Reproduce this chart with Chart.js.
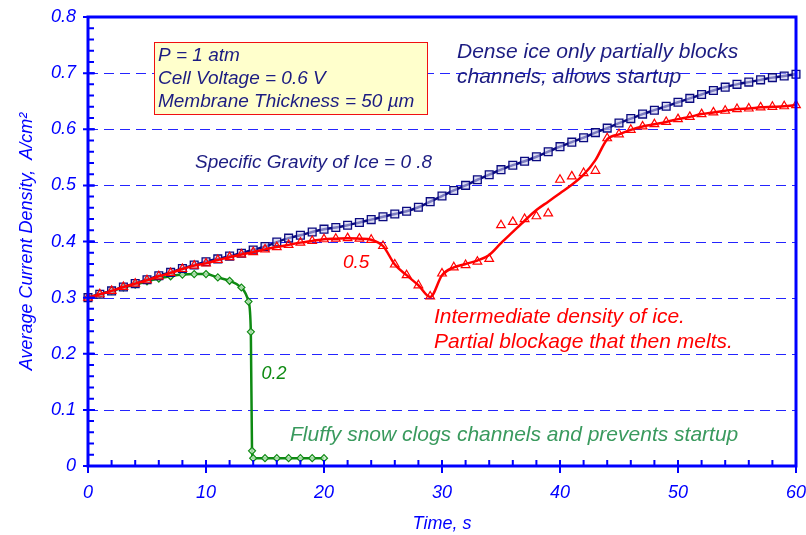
<!DOCTYPE html>
<html>
<head>
<meta charset="utf-8">
<title>Startup from frozen state</title>
<script src="https://cdn.jsdelivr.net/npm/chart.js@4.4.0/dist/chart.umd.min.js"></script>
<style>
  html, body { margin: 0; padding: 0; background: #fff; }
  #wrap { width: 806px; height: 535px; position: relative; }
</style>
</head>
<body>
<div id="wrap"><canvas id="startupChart"></canvas></div>
<script>
// time axis, one sample per second
const timeSec = [
  0, 1, 2, 3, 4, 5, 6, 7, 8, 9, 10, 11, 12, 13, 14, 15, 16, 17, 18, 19, 20,
  21, 22, 23, 24, 25, 26, 27, 28, 29, 30, 31, 32, 33, 34, 35, 36, 37, 38, 39, 40,
  41, 42, 43, 44, 45, 46, 47, 48, 49, 50, 51, 52, 53, 54, 55, 56, 57, 58, 59, 60
];

// specific gravity of ice = 0.8 (dense ice)
const sg08 = [
  0.300, 0.306, 0.312, 0.319, 0.325, 0.332, 0.339, 0.345, 0.352, 0.358, 0.364,
  0.369, 0.374, 0.379, 0.385, 0.391, 0.399, 0.406, 0.411, 0.417, 0.422,
  0.425, 0.429, 0.434, 0.439, 0.444, 0.449, 0.454, 0.461, 0.471, 0.481,
  0.491, 0.500, 0.510, 0.519, 0.528, 0.536, 0.543, 0.551, 0.560, 0.569,
  0.577, 0.585, 0.594, 0.602, 0.611, 0.619, 0.627, 0.634, 0.641, 0.648,
  0.655, 0.662, 0.669, 0.675, 0.680, 0.684, 0.688, 0.692, 0.695, 0.698
];

// specific gravity 0.5: computed points
const sg05Points = [
  0.300, 0.306, 0.312, 0.319, 0.325, 0.331, 0.338, 0.344, 0.351, 0.357, 0.361,
  0.367, 0.372, 0.377, 0.381, 0.386, 0.390, 0.394, 0.398, 0.401, 0.404,
  0.405, 0.406, 0.405, 0.403, 0.392, 0.359, 0.340, 0.322, 0.302, 0.343,
  0.354, 0.358, 0.364, 0.369, 0.429, 0.435, 0.440, 0.445, 0.450, 0.510,
  0.516, 0.522, 0.526, 0.584, 0.591, 0.599, 0.605, 0.609, 0.613, 0.618,
  0.622, 0.627, 0.630, 0.633, 0.636, 0.637, 0.639, 0.640, 0.641, 0.643
];

// specific gravity 0.5: smoothed curve
const sg05Curve = [
  0.300, 0.306, 0.312, 0.319, 0.325, 0.331, 0.338, 0.344, 0.351, 0.357, 0.361,
  0.367, 0.372, 0.377, 0.381, 0.386, 0.390, 0.394, 0.398, 0.401, 0.404,
  0.405, 0.406, 0.405, 0.403, 0.392, 0.359, 0.340, 0.322, 0.301, 0.340,
  0.354, 0.360, 0.366, 0.376, 0.397, 0.417, 0.437, 0.456, 0.471, 0.486,
  0.501, 0.519, 0.545, 0.582, 0.591, 0.599, 0.605, 0.609, 0.613, 0.618,
  0.622, 0.627, 0.630, 0.633, 0.636, 0.637, 0.639, 0.640, 0.641, 0.643
];

// specific gravity 0.2 (fluffy snow), sampled more finely near the collapse
const sg02Time = [0, 1, 2, 3, 4, 5, 6, 7, 8, 9, 10, 11, 12, 13, 13.6, 13.8, 13.9, 14, 15, 16, 17, 18, 19, 20];
const sg02 = [
  0.300, 0.306, 0.312, 0.318, 0.323, 0.329, 0.334, 0.338, 0.341, 0.342, 0.342,
  0.336, 0.330, 0.318, 0.293, 0.239, 0.027, 0.014, 0.014, 0.014, 0.014, 0.014, 0.014, 0.014
];

const xTicks = [0, 10, 20, 30, 40, 50, 60];
const yTicks = [0, 0.1, 0.2, 0.3, 0.4, 0.5, 0.6, 0.7, 0.8];
const xMinorStep = 2;
const yMinorStep = 0.02;

const FONT = '"Liberation Sans", Arial, Helvetica, sans-serif';
const AXIS_BLUE = '#0000ff';
const NAVY = '#1c1c82';
const RED = '#ff0000';
const GREEN = '#0e8a12';

// text placed in data coordinates (t, value) at the left end of the baseline
const notes = [
  { text: 'Dense ice only partially blocks', t: 31.27, v: 0.7261, color: NAVY, size: 21 },
  { text: 'channels, allows startup', t: 31.27, v: 0.6819, color: NAVY, size: 21 },
  { text: 'Specific Gravity of Ice = 0 .8', t: 9.07, v: 0.5304, color: NAVY, size: 19 },
  { text: '0.5', t: 21.61, v: 0.3528, color: RED, size: 19 },
  { text: 'Intermediate density of ice.', t: 29.32, v: 0.2543, color: RED, size: 21 },
  { text: 'Partial blockage that then melts.', t: 29.32, v: 0.2108, color: RED, size: 21 },
  { text: '0.2', t: 14.7, v: 0.155, color: GREEN, size: 18 },
  { text: 'Fluffy snow clogs channels and prevents startup', t: 17.12, v: 0.0454, color: '#3a9a5e', size: 21 }
];

const conditions = ['P = 1 atm', 'Cell Voltage = 0.6 V', 'Membrane Thickness = 50 \u00b5m'];

const toPoints = (xs, ys) => xs.map((x, i) => ({ x: x, y: ys[i] }));

const axisFrame = {
  id: 'axisFrame',
  beforeDatasetsDraw(chart) {
    const { ctx, chartArea: a, scales: { y } } = chart;
    ctx.save();
    ctx.strokeStyle = '#2424ff';
    ctx.lineWidth = 1;
    ctx.setLineDash([10, 6]);
    yTicks.slice(1, -1).forEach((v) => {
      const py = Math.round(y.getPixelForValue(v)) + 0.5;
      ctx.beginPath();
      ctx.moveTo(a.left, py);
      ctx.lineTo(a.right, py);
      ctx.stroke();
    });
    ctx.restore();
  },
  afterDatasetsDraw(chart) {
    const { ctx, chartArea: a, scales: { x, y } } = chart;
    ctx.save();
    ctx.strokeStyle = AXIS_BLUE;

    // minor ticks point into the plot
    ctx.lineWidth = 2;
    ctx.beginPath();
    for (let t = 0; t <= 60; t += xMinorStep) {
      const px = x.getPixelForValue(t);
      ctx.moveTo(px, a.bottom);
      ctx.lineTo(px, a.bottom - 6);
    }
    for (let i = 0; i <= 40; i++) {
      const py = y.getPixelForValue(i * yMinorStep);
      ctx.moveTo(a.left, py);
      ctx.lineTo(a.left + 6, py);
    }
    ctx.stroke();

    // major ticks cross the axis
    ctx.beginPath();
    xTicks.forEach((t) => {
      const px = x.getPixelForValue(t);
      ctx.moveTo(px, a.bottom - 6);
      ctx.lineTo(px, a.bottom + 7);
    });
    yTicks.forEach((v) => {
      const py = y.getPixelForValue(v);
      ctx.moveTo(a.left - 5, py);
      ctx.lineTo(a.left + 7, py);
    });
    ctx.stroke();

    ctx.lineWidth = 3;
    ctx.strokeRect(a.left, a.top, a.right - a.left, a.bottom - a.top);

    // conditions box
    const bx = x.getPixelForValue(5.59);
    const by = y.getPixelForValue(0.7555);
    const bw = x.getPixelForValue(28.73) - bx;
    const bh = y.getPixelForValue(0.6272) - by;
    ctx.fillStyle = '#ffffcc';
    ctx.fillRect(bx, by, bw, bh);
    ctx.lineWidth = 1;
    ctx.strokeStyle = '#f01010';
    ctx.strokeRect(Math.round(bx) + 0.5, Math.round(by) + 0.5, Math.round(bw), Math.round(bh));

    ctx.font = 'italic 19px ' + FONT;
    ctx.fillStyle = NAVY;
    ctx.textBaseline = 'alphabetic';
    ctx.textAlign = 'left';
    const lineVals = [0.7216, 0.6806, 0.6396];
    conditions.forEach((line, i) => {
      ctx.fillText(line, x.getPixelForValue(5.93), y.getPixelForValue(lineVals[i]));
    });

    notes.forEach((n) => {
      ctx.font = 'italic ' + n.size + 'px ' + FONT;
      ctx.fillStyle = n.color;
      ctx.fillText(n.text, x.getPixelForValue(n.t), y.getPixelForValue(n.v));
    });
    ctx.restore();
  }
};

const tickFont = { family: FONT, size: 18, style: 'italic' };
const titleFont = { family: FONT, size: 18, style: 'italic' };

new Chart(document.getElementById('startupChart'), {
  type: 'scatter',
  data: {
    datasets: [
      {
        label: 'SG 0.5 points',
        data: toPoints(timeSec, sg05Points),
        showLine: false,
        pointStyle: 'triangle',
        pointRadius: 5,
        pointBorderWidth: 1.2,
        pointBorderColor: RED,
        pointBackgroundColor: 'rgba(255,255,255,0)',
        clip: false,
        order: 0
      },
      {
        label: 'SG 0.5 curve',
        data: toPoints(timeSec, sg05Curve),
        showLine: true,
        borderColor: RED,
        borderWidth: 2.5,
        pointRadius: 0,
        cubicInterpolationMode: 'monotone',
        clip: false,
        order: 1
      },
      {
        label: 'SG 0.8',
        data: toPoints(timeSec, sg08),
        showLine: true,
        borderColor: '#0a0a80',
        borderWidth: 2.5,
        cubicInterpolationMode: 'monotone',
        pointStyle: 'rect',
        pointRadius: 5.5,
        pointBorderWidth: 1.3,
        pointBorderColor: '#0a0a80',
        pointBackgroundColor: 'rgba(200,200,235,0.6)',
        clip: false,
        order: 2
      },
      {
        label: 'SG 0.2',
        data: toPoints(sg02Time, sg02),
        showLine: true,
        borderColor: GREEN,
        borderWidth: 2.5,
        cubicInterpolationMode: 'monotone',
        pointStyle: 'rectRot',
        pointRadius: 3.5,
        pointBorderWidth: 1.2,
        pointBorderColor: GREEN,
        pointBackgroundColor: 'rgba(200,235,200,0.8)',
        clip: false,
        order: 3
      }
    ]
  },
  options: {
    responsive: true,
    maintainAspectRatio: false,
    animation: false,
    layout: { padding: { top: 17, right: 10, left: 0, bottom: 0 } },
    plugins: {
      legend: { display: false },
      tooltip: { enabled: false }
    },
    scales: {
      x: {
        type: 'linear',
        min: 0,
        max: 60,
        afterBuildTicks: (axis) => { axis.ticks = xTicks.map((v) => ({ value: v })); },
        afterFit: (axis) => {
          axis.height = 69;
          axis.paddingLeft = 0;
          axis.paddingRight = 0;
        },
        grid: { display: false, drawTicks: false },
        border: { display: false },
        ticks: { color: AXIS_BLUE, font: tickFont, padding: 16, maxRotation: 0 },
        title: { display: true, text: 'Time, s', color: AXIS_BLUE, font: titleFont, padding: { top: 0, bottom: 0 } }
      },
      y: {
        type: 'linear',
        min: 0,
        max: 0.8,
        afterBuildTicks: (axis) => { axis.ticks = yTicks.map((v) => ({ value: v })); },
        afterFit: (axis) => {
          axis.width = 88;
          axis.paddingTop = 0;
          axis.paddingBottom = 0;
        },
        grid: { display: false, drawTicks: false },
        border: { display: false },
        ticks: {
          color: AXIS_BLUE,
          font: tickFont,
          padding: 12,
          callback: (val) => (val === 0 ? '0' : val.toFixed(1))
        },
        title: { display: true, text: 'Average Current Density,  A/cm\u00b2', color: AXIS_BLUE, font: titleFont, padding: { top: 16, bottom: 0 } }
      }
    }
  },
  plugins: [axisFrame]
});
</script>
</body>
</html>
